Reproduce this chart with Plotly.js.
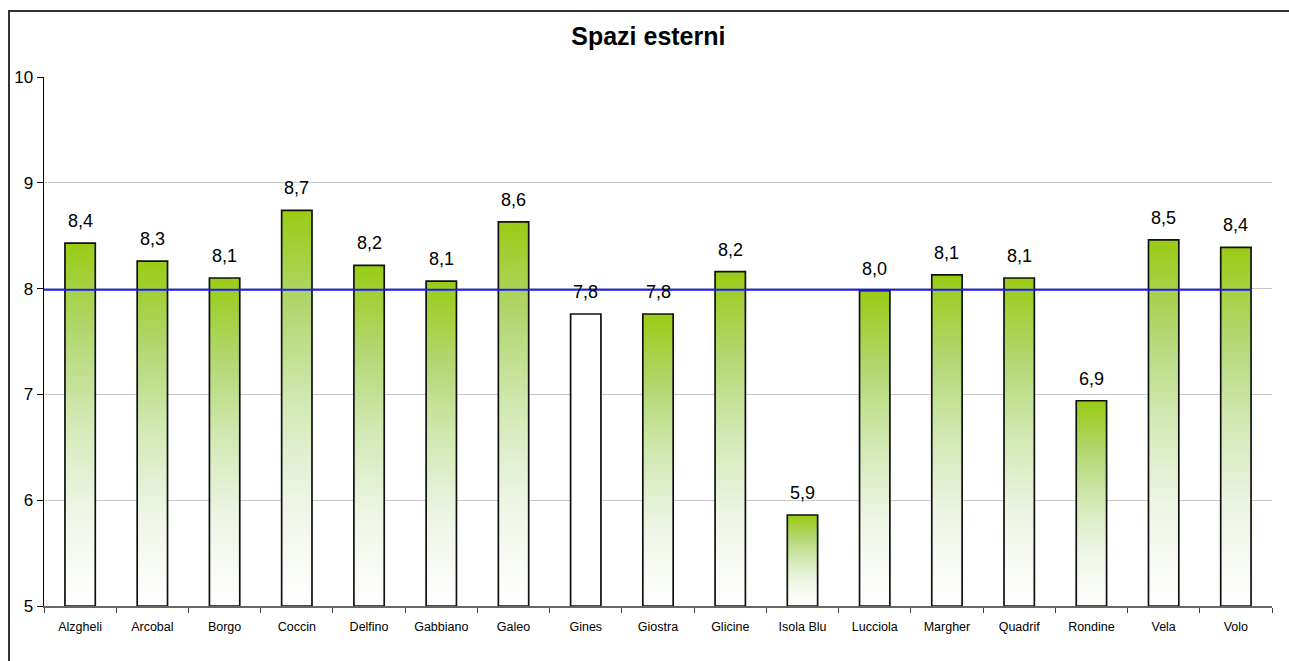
<!DOCTYPE html>
<html>
<head>
<meta charset="utf-8">
<script src="https://cdn.plot.ly/plotly-3.0.1.min.js"></script>
<style>
  html, body { margin: 0; padding: 0; background: #fff; }
  #chart { width: 1289px; height: 661px; position: absolute; left: 0; top: 0; }
  #frame { position: absolute; left: 8px; top: 10px; width: 1400px; height: 800px;
           border: 2px solid #333; pointer-events: none; box-sizing: border-box; }
</style>
</head>
<body>
<div id="chart"></div>
<div id="frame"></div>
<script>
// ---- data ----
const categories = ["Alzgheli", "Arcobal", "Borgo", "Coccin", "Delfino", "Gabbiano", "Galeo",
  "Gines", "Giostra", "Glicine", "Isola Blu", "Lucciola", "Margher", "Quadrif", "Rondine", "Vela", "Volo"];
const values = [8.43, 8.26, 8.10, 8.74, 8.22, 8.07, 8.63, 7.76, 7.76, 8.16, 5.86, 7.98, 8.13, 8.10, 6.94, 8.46, 8.39];
const averageValue = 7.99;
const unfilledCategory = "Gines";
const yTicks = [5, 6, 7, 8, 9, 10];

// ---- styling ----
const barWidth = 0.42;
const baseY = 5;
const gradientScale = [[0, '#ffffff'], [0.27, '#eef5e6'], [0.52, '#d2e8b2'], [0.76, '#b2d66e'], [1, '#99cc14']];
const fmt = v => v.toFixed(1).replace('.', ',');
const FONT = 'Liberation Sans, Arial, sans-serif';

const idx = categories.map((_, i) => i);
const traces = [];

// bars: gradient fill + black outline
categories.forEach((c, i) => {
  const v = values[i];
  const t = {
    type: 'scatter', mode: 'lines',
    x: [i - barWidth / 2, i - barWidth / 2, i + barWidth / 2, i + barWidth / 2, i - barWidth / 2],
    y: [baseY, v, v, baseY, baseY],
    fill: 'toself',
    line: { width: 1.7, color: '#111' },
    hoverinfo: 'skip', showlegend: false, cliponaxis: false
  };
  if (c === unfilledCategory) t.fillcolor = '#ffffff';
  else t.fillgradient = { type: 'vertical', colorscale: gradientScale };
  traces.push(t);
});

// average line
traces.push({
  type: 'scatter', mode: 'lines',
  x: [-0.5, categories.length - 1 + barWidth / 2],
  y: [averageValue, averageValue],
  line: { color: '#1a1aff', width: 2 },
  showlegend: false, hoverinfo: 'skip'
});

const annotations = values.map((v, i) => ({
  x: i, y: v, xref: 'x', yref: 'y', text: fmt(v), showarrow: false,
  yanchor: 'bottom', yshift: 10,
  font: { family: FONT, size: 18, color: '#000' }
}));

const boundaries = categories.map((_, i) => i - 0.5).concat([categories.length - 0.5]);

const layout = {
  width: 1289, height: 661,
  margin: { l: 44, r: 17, t: 77, b: 55 },
  paper_bgcolor: '#fff', plot_bgcolor: '#fff',
  font: { family: FONT, color: '#000' },
  title: {
    text: '<b>Spazi esterni</b>',
    font: { family: FONT, size: 25, color: '#000' },
    x: 0.503, xanchor: 'center', y: 1 - 36 / 661, yanchor: 'middle', yref: 'container'
  },
  xaxis: {
    range: [-0.5, categories.length - 0.5],
    tickmode: 'array', tickvals: idx, ticktext: categories,
    ticks: '', tickfont: { size: 12.5, color: '#000' }, ticklabelstandoff: 8,
    showline: true, linecolor: '#666', linewidth: 1.5,
    showgrid: false, zeroline: false, fixedrange: true,
    minor: { tickmode: 'array', tickvals: boundaries, ticks: 'outside', ticklen: 5, tickcolor: '#444', tickwidth: 1, showgrid: false }
  },
  yaxis: {
    range: [5, 10], tickmode: 'array', tickvals: yTicks, ticktext: yTicks.map(String),
    ticks: 'outside', ticklen: 6, tickcolor: '#000', tickwidth: 1,
    tickfont: { size: 17, color: '#000' },
    showline: true, linecolor: '#000', linewidth: 1.5,
    showgrid: true, gridcolor: '#c8c8c8', gridwidth: 1,
    zeroline: false, fixedrange: true
  },
  annotations: annotations
};

Plotly.newPlot('chart', traces, layout, { displayModeBar: false, staticPlot: true });
</script>
</body>
</html>
